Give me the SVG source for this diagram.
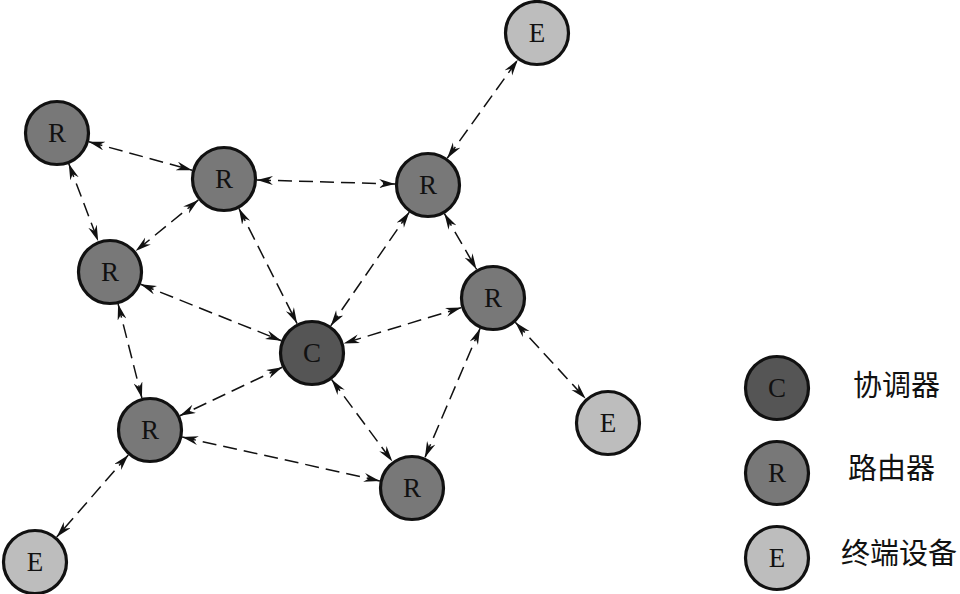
<svg xmlns="http://www.w3.org/2000/svg" width="960" height="594" viewBox="0 0 960 594">
<style>
.node{stroke:#111;stroke-width:3.2}
.c{fill:#555}
.r{fill:#787878}
.e{fill:#bdbdbd}
.lbl{font-family:"Liberation Serif",serif;font-size:27px;fill:#111;text-anchor:middle;dominant-baseline:central}
.leg{font-family:"Liberation Serif","Noto Sans CJK SC",sans-serif;font-size:29px;fill:#111;dominant-baseline:central}
.edge{stroke:#111;stroke-width:1.5;stroke-dasharray:14 7;fill:none;marker-start:url(#ah);marker-end:url(#ah)}
</style>
<defs>
<marker id="ah" markerUnits="userSpaceOnUse" markerWidth="17" markerHeight="10" refX="16" refY="4.5" orient="auto-start-reverse" viewBox="0 0 17 10">
<path d="M0,0 L16,4.5 L0,9 L5,4.5 Z" fill="#111"/>
</marker>
</defs>
<rect width="960" height="594" fill="#fff"/>
<g id="connectors">
<line class="edge" x1="88.8" y1="141.8" x2="192.2" y2="170.2"/>
<line class="edge" x1="68.8" y1="163.8" x2="98.2" y2="241.2"/>
<line class="edge" x1="257" y1="180" x2="395" y2="184"/>
<line class="edge" x1="198.4" y1="199.9" x2="135.6" y2="251.1"/>
<line class="edge" x1="238.9" y1="208.4" x2="297.1" y2="323.6"/>
<line class="edge" x1="140.6" y1="284.3" x2="281.4" y2="340.7"/>
<line class="edge" x1="118.1" y1="304" x2="141.9" y2="398"/>
<line class="edge" x1="447.2" y1="158.2" x2="517.8" y2="59.8"/>
<line class="edge" x1="409.3" y1="212.1" x2="330.7" y2="325.9"/>
<line class="edge" x1="444.4" y1="213.6" x2="476.6" y2="269.4"/>
<line class="edge" x1="461.4" y1="307.6" x2="343.6" y2="343.4"/>
<line class="edge" x1="515.3" y1="322.3" x2="585.7" y2="398.7"/>
<line class="edge" x1="480.1" y1="328.4" x2="424.9" y2="457.6"/>
<line class="edge" x1="282.2" y1="367.2" x2="179.8" y2="415.8"/>
<line class="edge" x1="331.6" y1="379.5" x2="392.4" y2="461.5"/>
<line class="edge" x1="182.2" y1="437.1" x2="379.8" y2="480.9"/>
<line class="edge" x1="128.3" y1="454.9" x2="56.7" y2="537.1"/>
</g>
<g id="E1"><circle class="node e" cx="537" cy="33" r="31.5"/><text class="lbl" x="537" y="33">E</text></g>
<g id="R1"><circle class="node r" cx="57" cy="133" r="31.5"/><text class="lbl" x="57" y="133">R</text></g>
<g id="R2"><circle class="node r" cx="224" cy="179" r="31.5"/><text class="lbl" x="224" y="179">R</text></g>
<g id="R3"><circle class="node r" cx="428" cy="185" r="31.5"/><text class="lbl" x="428" y="185">R</text></g>
<g id="R4"><circle class="node r" cx="110" cy="272" r="31.5"/><text class="lbl" x="110" y="272">R</text></g>
<g id="R5"><circle class="node r" cx="493" cy="298" r="31.5"/><text class="lbl" x="493" y="298">R</text></g>
<g id="C"><circle class="node c" cx="312" cy="353" r="31.5"/><text class="lbl" x="312" y="353">C</text></g>
<g id="R6"><circle class="node r" cx="150" cy="430" r="31.5"/><text class="lbl" x="150" y="430">R</text></g>
<g id="E2"><circle class="node e" cx="608" cy="423" r="31.5"/><text class="lbl" x="608" y="423">E</text></g>
<g id="R7"><circle class="node r" cx="412" cy="488" r="31.5"/><text class="lbl" x="412" y="488">R</text></g>
<g id="E3"><circle class="node e" cx="35" cy="562" r="31.5"/><text class="lbl" x="35" y="562">E</text></g>
<g id="legend">
<g id="legend-C"><circle class="node c" cx="777" cy="388" r="31.5"/><text class="lbl" x="777" y="388">C</text><text class="leg" x="853" y="386">协调器</text></g>
<g id="legend-R"><circle class="node r" cx="777" cy="473" r="31.5"/><text class="lbl" x="777" y="473">R</text><text class="leg" x="848" y="469">路由器</text></g>
<g id="legend-E"><circle class="node e" cx="777" cy="558" r="31.5"/><text class="lbl" x="777" y="558">E</text><text class="leg" x="841" y="554">终端设备</text></g>
</g>
</svg>
